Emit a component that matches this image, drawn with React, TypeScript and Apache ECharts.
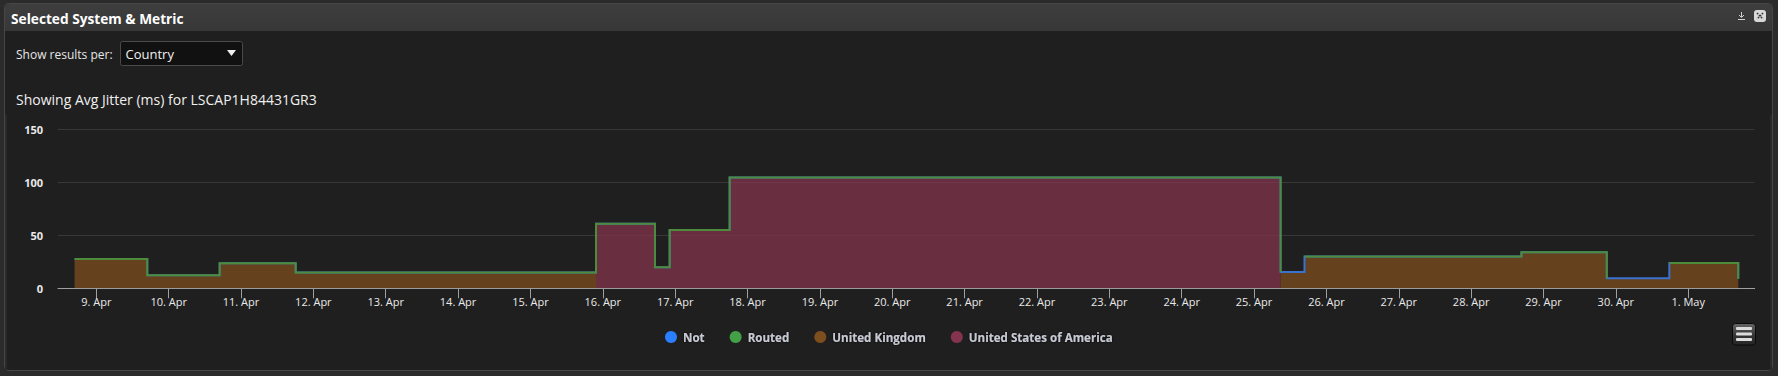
import React, { useEffect, useRef } from "react";
import * as echarts from "echarts";

const W = 1778;
const H = 376;
const FONT = '"Open Sans", sans-serif';

const tickLabels = ["9. Apr","10. Apr","11. Apr","12. Apr","13. Apr","14. Apr","15. Apr","16. Apr","17. Apr","18. Apr","19. Apr","20. Apr","21. Apr","22. Apr","23. Apr","24. Apr","25. Apr","26. Apr","27. Apr","28. Apr","29. Apr","30. Apr","1. May"];
// x values are days counted from 9 Apr
const tickPositions = tickLabels.map((_, i) => i);

const notX = [-0.3,0.705,1.705,2.756,6.906,7.721,7.924,8.753,16.367,16.697,19.695,20.875,21.739,22.692];
const notValues = [27.6,12.3,23.6,15,61,20,55,104.7,15.4,30,34,9.4,24,9];

// null entries break the line where only "Not" has a value
const routedX = [-0.3,0.705,1.705,2.756,6.906,7.721,7.924,8.753,16.367,null,16.697,19.695,20.875,null,21.739,22.692];
const routedValues = [27.6,12.3,23.6,15,61,20,55,104.7,15.4,null,30,34,9.4,null,24,9];

const ukX = [-0.3,0.705,1.705,2.756,6.906,null,16.367,16.697,19.695,20.875,21.739,22.692];
const ukValues = [27.6,12.3,23.6,15,15,null,15.4,30,34,9.4,24,9];

const usaX = [6.906,7.721,7.924,8.753,16.367];
const usaValues = [61,20,55,104.7,104.7];

const zip = (xs: (number | null)[], ys: (number | null)[]) => xs.map((x, i) => [x, ys[i]]);

const chrome: any[] = [
  { type: "rect", z: -10, shape: { x: 4.5, y: 3.5, width: 1768, height: 367, r: 4 }, style: { fill: "#1f1f1f", stroke: "#474747", lineWidth: 1 } },
  { type: "rect", z: -9, shape: { x: 5, y: 4, width: 1767, height: 27, r: [4, 4, 0, 0] }, style: { fill: new echarts.graphic.LinearGradient(0, 0, 0, 1, [{ offset: 0, color: "#3e3e3e" }, { offset: 1, color: "#373737" }]) } },
  { type: "rect", z: -9, shape: { x: 5, y: 115, width: 2, height: 255 }, style: { fill: "#2a2a2a" } },
  { type: "rect", z: -9, shape: { x: 1770, y: 115, width: 2, height: 255 }, style: { fill: "#2a2a2a" } },
  { type: "text", z: 5, x: 11, y: 18, style: { text: "Selected System & Metric", fill: "#ffffff", font: `bold 13.7px ${FONT}`, textVerticalAlign: "middle" } },
  { type: "text", z: 5, x: 16, y: 54, style: { text: "Show results per:", fill: "#e6e6e6", font: `12px ${FONT}`, textVerticalAlign: "middle" } },
  { type: "rect", z: 5, shape: { x: 120.5, y: 41.5, width: 122, height: 24, r: 2 }, style: { fill: "#111111", stroke: "#4a4a4a", lineWidth: 1 } },
  { type: "text", z: 6, x: 125.5, y: 53.5, style: { text: "Country", fill: "#f0f0f0", font: `13px ${FONT}`, textVerticalAlign: "middle" } },
  { type: "polygon", z: 6, shape: { points: [[227, 50], [236, 50], [231.5, 56]] }, style: { fill: "#f0f0f0" } },
  { type: "text", z: 5, x: 16, y: 99, style: { text: "Showing Avg Jitter (ms) for LSCAP1H84431GR3", fill: "#f0f0f0", font: `14px ${FONT}`, textVerticalAlign: "middle" } },
  // download icon
  { type: "line", z: 6, shape: { x1: 1741.5, y1: 12, x2: 1741.5, y2: 17 }, style: { stroke: "#cfcfcf", lineWidth: 1 } },
  { type: "polyline", z: 6, shape: { points: [[1739, 15], [1741.5, 17.5], [1744, 15]] }, style: { stroke: "#cfcfcf", lineWidth: 1, fill: "none" } },
  { type: "line", z: 6, shape: { x1: 1738, y1: 19.5, x2: 1745, y2: 19.5 }, style: { stroke: "#cfcfcf", lineWidth: 1 } },
  // close icon
  { type: "rect", z: 6, shape: { x: 1754, y: 10, width: 12, height: 12, r: 3 }, style: { fill: "#d8d8d8" } },
  { type: "line", z: 7, shape: { x1: 1757, y1: 13, x2: 1763, y2: 19 }, style: { stroke: "#333333", lineWidth: 1.6, lineDash: [1.6, 1.2] } },
  { type: "line", z: 7, shape: { x1: 1763, y1: 13, x2: 1757, y2: 19 }, style: { stroke: "#333333", lineWidth: 1.6, lineDash: [1.6, 1.2] } },
  // context menu button
  { type: "rect", z: 6, shape: { x: 1732.5, y: 323.5, width: 23, height: 21.5, r: 3 }, style: { fill: new echarts.graphic.LinearGradient(0, 0, 0, 1, [{ offset: 0, color: "#666666" }, { offset: 0.6, color: "#333333" }, { offset: 1, color: "#262626" }]), stroke: "#0a0a0a", lineWidth: 1 } },
  { type: "rect", z: 7, shape: { x: 1736, y: 327, width: 16, height: 3, r: 1 }, style: { fill: "#dcdcdc" } },
  { type: "rect", z: 7, shape: { x: 1736, y: 332.5, width: 16, height: 3, r: 1 }, style: { fill: "#dcdcdc" } },
  { type: "rect", z: 7, shape: { x: 1736, y: 338, width: 16, height: 3, r: 1 }, style: { fill: "#dcdcdc" } },
];

const stepLine = (name: string, data: any[], color: string, legendColor: string, z: number) => ({
  name, type: "line", step: "end", data, z, showSymbol: false, silent: true,
  itemStyle: { color: legendColor },
  lineStyle: { color, width: 2, join: "miter" },
});
const stepArea = (name: string, data: any[], color: string, z: number) => ({
  name, type: "line", step: "end", data, z, showSymbol: false, silent: true,
  itemStyle: { color },
  lineStyle: { width: 0 },
  areaStyle: { color, opacity: 0.75 },
});

export default function App() {
  const ref = useRef<HTMLDivElement>(null);
  useEffect(() => {
    document.body.style.margin = "0";
    const chart = echarts.init(ref.current!, undefined, { renderer: "svg" });
    chart.setOption({
      animation: false,
      backgroundColor: "#2b2b2b",
      textStyle: { fontFamily: FONT },
      grid: { left: 58, right: 23.3, top: 129.5, bottom: 87.7, containLabel: false },
      xAxis: {
        type: "value",
        min: -0.529,
        max: 22.919,
        splitLine: { show: false },
        axisLine: { show: true, onZero: false, lineStyle: { color: "#a0a0a0", width: 1 } },
        axisTick: { show: true, length: 10, customValues: tickPositions, lineStyle: { color: "#a0a0a0", width: 1 } },
        axisLabel: {
          customValues: tickPositions,
          color: "#eaeaea", fontSize: 11, fontFamily: FONT, margin: 8,
          formatter: (v: number) => tickLabels[v] ?? "",
        },
      },
      yAxis: {
        type: "value",
        min: 0,
        max: 150,
        interval: 50,
        axisLine: { show: false },
        axisTick: { show: false },
        splitLine: { show: true, lineStyle: { color: "#383838", width: 1 } },
        axisLabel: { color: "#eaeaea", fontSize: 11, fontWeight: "bold", fontFamily: FONT, margin: 15 },
      },
      legend: {
        left: 660, top: 326, icon: "circle", itemWidth: 12, itemHeight: 12, itemGap: 25,
        selectedMode: false,
        data: ["Not", "Routed", "United Kingdom", "United States of America"],
        textStyle: { color: "#c6c9d2", fontSize: 11.6, fontWeight: "bold", fontFamily: FONT, textShadowColor: "#000", textShadowBlur: 2, padding: [0, 0, 0, 1] },
      },
      graphic: { elements: chrome },
      series: [
        stepArea("United Kingdom", zip(ukX, ukValues), "#7e4f1e", 2),
        stepArea("United States of America", zip(usaX, usaValues), "#84344e", 2),
        stepLine("Not", zip(notX, notValues), "#3a72d0", "#2a7fff", 3),
        stepLine("Routed", zip(routedX, routedValues), "#4c8c3a", "#43a047", 4),
      ],
    });
    return () => chart.dispose();
  }, []);
  return <div ref={ref} style={{ width: W, height: H }} />;
}
